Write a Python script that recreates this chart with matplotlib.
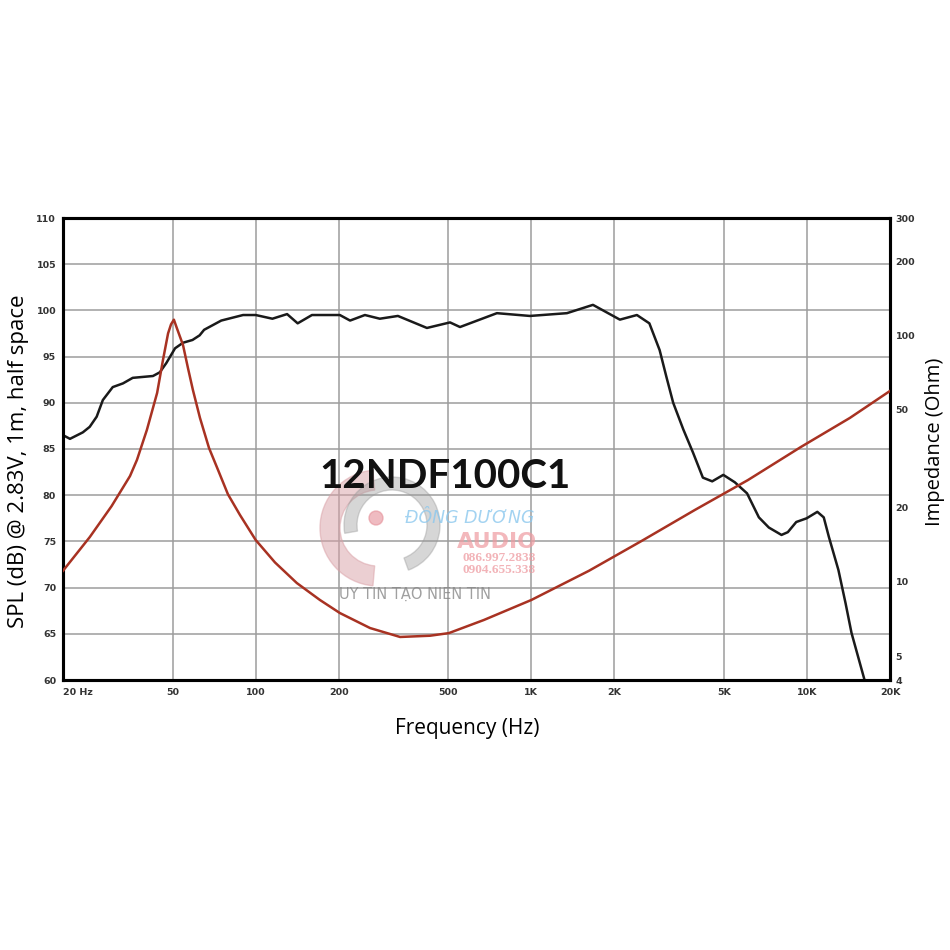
import matplotlib.pyplot as plt
from matplotlib.patches import Wedge, Circle

# SPL response (black)
spl_freq = [20, 21.2, 23.6, 25, 26.5, 27.9, 30.3, 33, 35.8, 42.4, 44.9, 47.4, 51, 54.5,
            59, 62.6, 65, 75, 90, 100, 115, 130, 142, 160, 202, 220, 249, 282, 328, 418,
            507, 551, 750, 988, 1346, 1673, 2095, 2415, 2680, 2920, 3090, 3270, 3560,
            3860, 4190, 4530, 4970, 5470, 6060, 6690, 7270, 8080, 8520, 9140, 9970,
            10900, 11500, 12000, 13000, 13800, 14500, 16100]
spl_db = [86.5, 86.1, 86.8, 87.4, 88.5, 90.3, 91.7, 92.1, 92.7, 92.9, 93.3, 94.3, 95.9, 96.5,
          96.8, 97.3, 97.9, 98.9, 99.5, 99.5, 99.1, 99.6, 98.6, 99.5, 99.5, 98.9, 99.5, 99.1,
          99.4, 98.1, 98.7, 98.2, 99.7, 99.4, 99.7, 100.6, 99.0, 99.5, 98.6, 95.7, 92.8,
          90.0, 87.1, 84.6, 81.9, 81.5, 82.2, 81.4, 80.2, 77.6, 76.5, 75.7, 76.0, 77.1,
          77.5, 78.2, 77.6, 75.5, 71.9, 68.3, 65.1, 60.2]

# impedance (red), ohm
imp_freq = [20, 25, 30, 35, 37.1, 40.3, 43.9, 46.1, 48.1, 49.3, 50.5, 51.8, 54.5, 56.8,
            59.2, 62.8, 67.7, 73, 79.3, 87.7, 100, 117.5, 141, 171, 202, 260, 334, 429,
            502, 673, 1000, 1618, 2520, 3920, 6100, 9500, 14300, 20000]
imp_ohm = [11.1, 15.2, 20.3, 26.9, 31.3, 41.4, 58.5, 79.6, 102, 111, 116, 107, 91.5, 73.8,
           60.1, 46.3, 35.0, 28.5, 22.7, 18.7, 14.8, 12.0, 9.9, 8.45, 7.48, 6.5, 5.98, 6.05,
           6.2, 7.01, 8.45, 11.1, 14.7, 19.6, 25.9, 35.3, 46.3, 59.6]

x_major = [20, 50, 100, 200, 500, 1000, 2000, 5000, 10000, 20000]
x_labels = ['20 Hz', '50', '100', '200', '500', '1K', '2K', '5K', '10K', '20K']
x_minor = [30, 40, 60, 70, 80, 90, 300, 400, 600, 700, 800, 900,
           3000, 4000, 6000, 7000, 8000, 9000]
spl_ticks = [60, 65, 70, 75, 80, 85, 90, 95, 100, 105, 110]
imp_ticks = [4, 5, 10, 20, 50, 100, 200, 300]

fig = plt.figure(figsize=(9.5, 9.5), dpi=100)
ax = fig.add_axes([63/950, 1 - 680/950, 827/950, 462/950])
ax.set_xscale('log')
ax.set_xlim(20, 20000)
ax.set_ylim(60, 110)
ax.set_xticks(x_major)
ax.set_xticklabels(x_labels)
ax.set_xticks(x_minor, minor=True)
ax.set_xticklabels([], minor=True)
ax.set_yticks(spl_ticks)
ax.set_axisbelow(True)
ax.grid(which='both', color='#9c9c9c', lw=1.1)
ax.tick_params(which='both', length=0, labelsize=6.8, labelcolor='#333333')
ax.tick_params(axis='x', pad=6)
ax.tick_params(axis='y', pad=5)
for t in ax.get_xticklabels() + ax.get_yticklabels():
    t.set_fontweight('bold')
ax.get_xticklabels()[0].set_horizontalalignment('left')
for s in ax.spines.values():
    s.set_linewidth(2.2)

ax2 = ax.twinx()
ax2.set_yscale('log')
ax2.set_ylim(4, 300)
ax2.set_yticks(imp_ticks)
ax2.set_yticklabels([str(v) for v in imp_ticks])
ax2.minorticks_off()
ax2.tick_params(which='both', length=0, labelsize=6.8, labelcolor='#333333', pad=4)
for t in ax2.get_yticklabels():
    t.set_fontweight('bold')
for s in ax2.spines.values():
    s.set_linewidth(2.2)

# watermark
fig.patches.append(Wedge((378/950, 1 - 528/950), 58/950, 95, 265, width=20/950,
                         transform=fig.transFigure, color='#d9a0a6', alpha=0.5, zorder=1))
fig.patches.append(Wedge((392/950, 1 - 525/950), 48/950, -70, 190, width=13/950,
                         transform=fig.transFigure, color='#9a9a9a', alpha=0.4, zorder=1))
fig.patches.append(Circle((376/950, 1 - 518/950), 7/950, transform=fig.transFigure,
                          color='#e58f98', alpha=0.6, zorder=1))
fig.text(470/950, 1 - 518/950, 'ĐÔNG DƯƠNG', fontsize=12.5, style='italic', color='#8cc8ee',
         ha='center', va='center', alpha=0.8)
fig.text(497/950, 1 - 542/950, 'AUDIO', fontsize=16, color='#ee9aa0', ha='center',
         va='center', fontweight='bold', alpha=0.7)
fig.text(499/950, 1 - 558/950, '086.997.2838', fontsize=9.5, color='#ee9aa0', ha='center',
         va='center', fontweight='bold', family='Liberation Serif', alpha=0.75)
fig.text(499/950, 1 - 570/950, '0904.655.338', fontsize=9.5, color='#ee9aa0', ha='center',
         va='center', fontweight='bold', family='Liberation Serif', alpha=0.75)
fig.text(415/950, 1 - 594/950, 'UY TIN TẠO NIEN TIN', fontsize=10.5, color='#888888',
         ha='center', va='center', alpha=0.8)

ax.plot(spl_freq, spl_db, color='#1a1a1a', lw=1.8, zorder=3)
ax2.plot(imp_freq, imp_ohm, color='#a83222', lw=1.8, zorder=3)

fig.text(445/950, 1 - 477/950, '12NDF100C1', fontsize=29, fontweight='bold',
         family='Lato', ha='center', va='center', color='#111111')

ax.set_xlabel('Frequency (Hz)', family='Open Sans', fontsize=15, va='center')
ax.xaxis.set_label_coords(0.4885, -0.104)
ax.set_ylabel('SPL (dB) @ 2.83V, 1m, half space', family='Open Sans', fontsize=16,
              va='center')
ax.yaxis.set_label_coords(-0.0544, 0.474)
ax2.set_ylabel('Impedance (Ohm)', family='Open Sans', fontsize=14.5, va='center')
ax2.yaxis.set_label_coords(1.0544, 0.515)

fig.savefig('out.png', dpi=100)
